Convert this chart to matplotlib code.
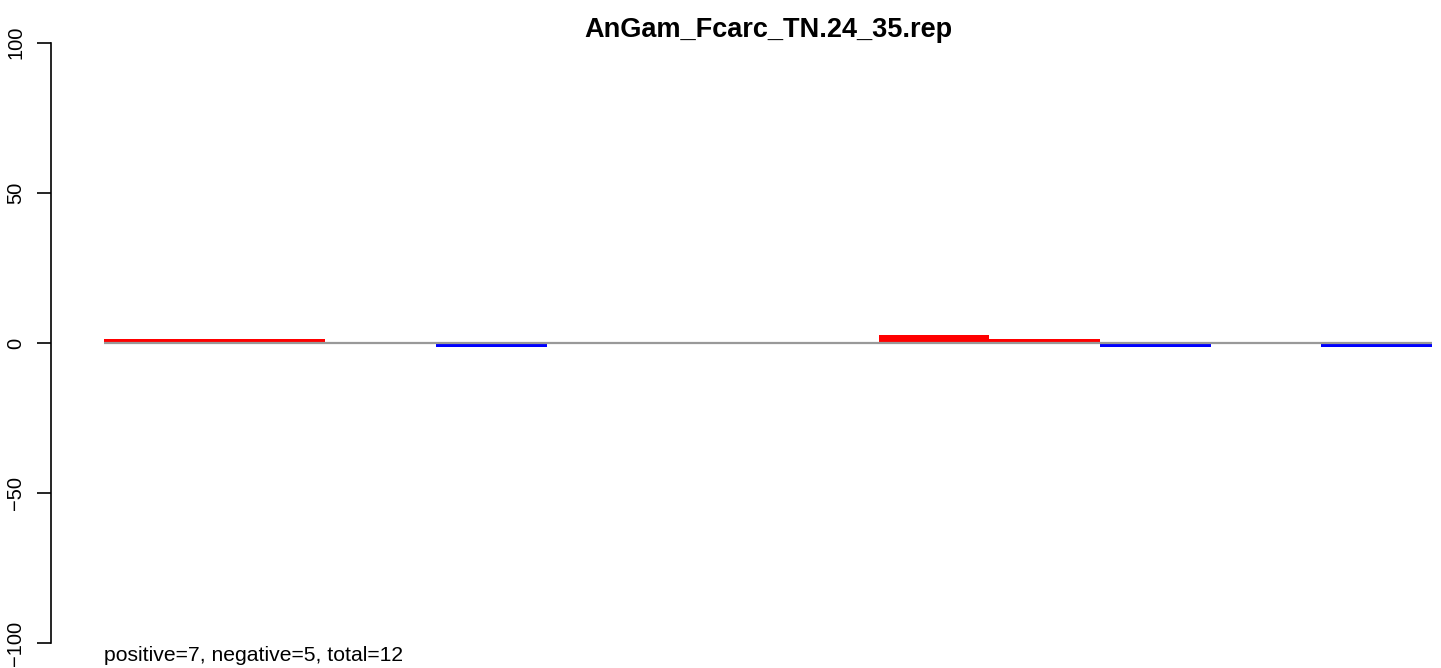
import matplotlib
matplotlib.use("Agg")
import matplotlib.pyplot as plt
import numpy as np

plt.rcParams['font.family'] = ['Liberation Sans', 'DejaVu Sans']

title = "AnGam_Fcarc_TN.24_35.rep"
values = [1.3, 1.3, 0.2, -1.4, -0.2, 0.2, 0.2, 2.7, 1.3, -1.4, -0.2, -1.4]
y_ticks = [-100, -50, 0, 50, 100]

vals = np.array(values)
n_pos = int((vals > 0).sum())
n_neg = int((vals < 0).sum())
colors = ['red' if v > 0 else 'blue' for v in vals]

W, H = 1441, 668
fig = plt.figure(figsize=(W / 100, H / 100), dpi=100)
# plot region in pixels
left, right = 51, 1441
top, bottom = 18.6, 667.4
ax = fig.add_axes([left / W, 1 - bottom / H, (right - left) / W, (bottom - top) / H])

x = np.arange(len(vals))
ax.bar(x, vals, width=1.0, align='edge', color=colors, edgecolor='none', zorder=2)
ax.hlines(0, 0, len(vals), color='#999999', lw=1.6, zorder=3)

bar_w = 110.67
ax.set_xlim(-0.48, (right - 104) / bar_w)
ax.set_ylim(-108, 108)

for s in ['top', 'right', 'bottom']:
    ax.spines[s].set_visible(False)
ax.spines['left'].set_linewidth(1.2)
ax.spines['left'].set_bounds(y_ticks[0], y_ticks[-1])
ax.set_xticks([])
ax.set_yticks(y_ticks)
ax.set_yticklabels([str(t).replace('-', '\u2212') for t in y_ticks], rotation=90,
                   va='center', fontsize=14.5)
ax.tick_params(axis='y', length=10.1, width=1.2, pad=8.6)

fig.text(768 / W, 1 - 36.7 / H, title, ha='center', va='baseline',
         fontsize=19.5, fontweight='bold')
fig.text(104 / W, 1 - 661 / H, f"positive={n_pos}, negative={n_neg}, total={len(vals)}",
         ha='left', va='baseline', fontsize=15.2)

fig.savefig("out.png", dpi=100)
